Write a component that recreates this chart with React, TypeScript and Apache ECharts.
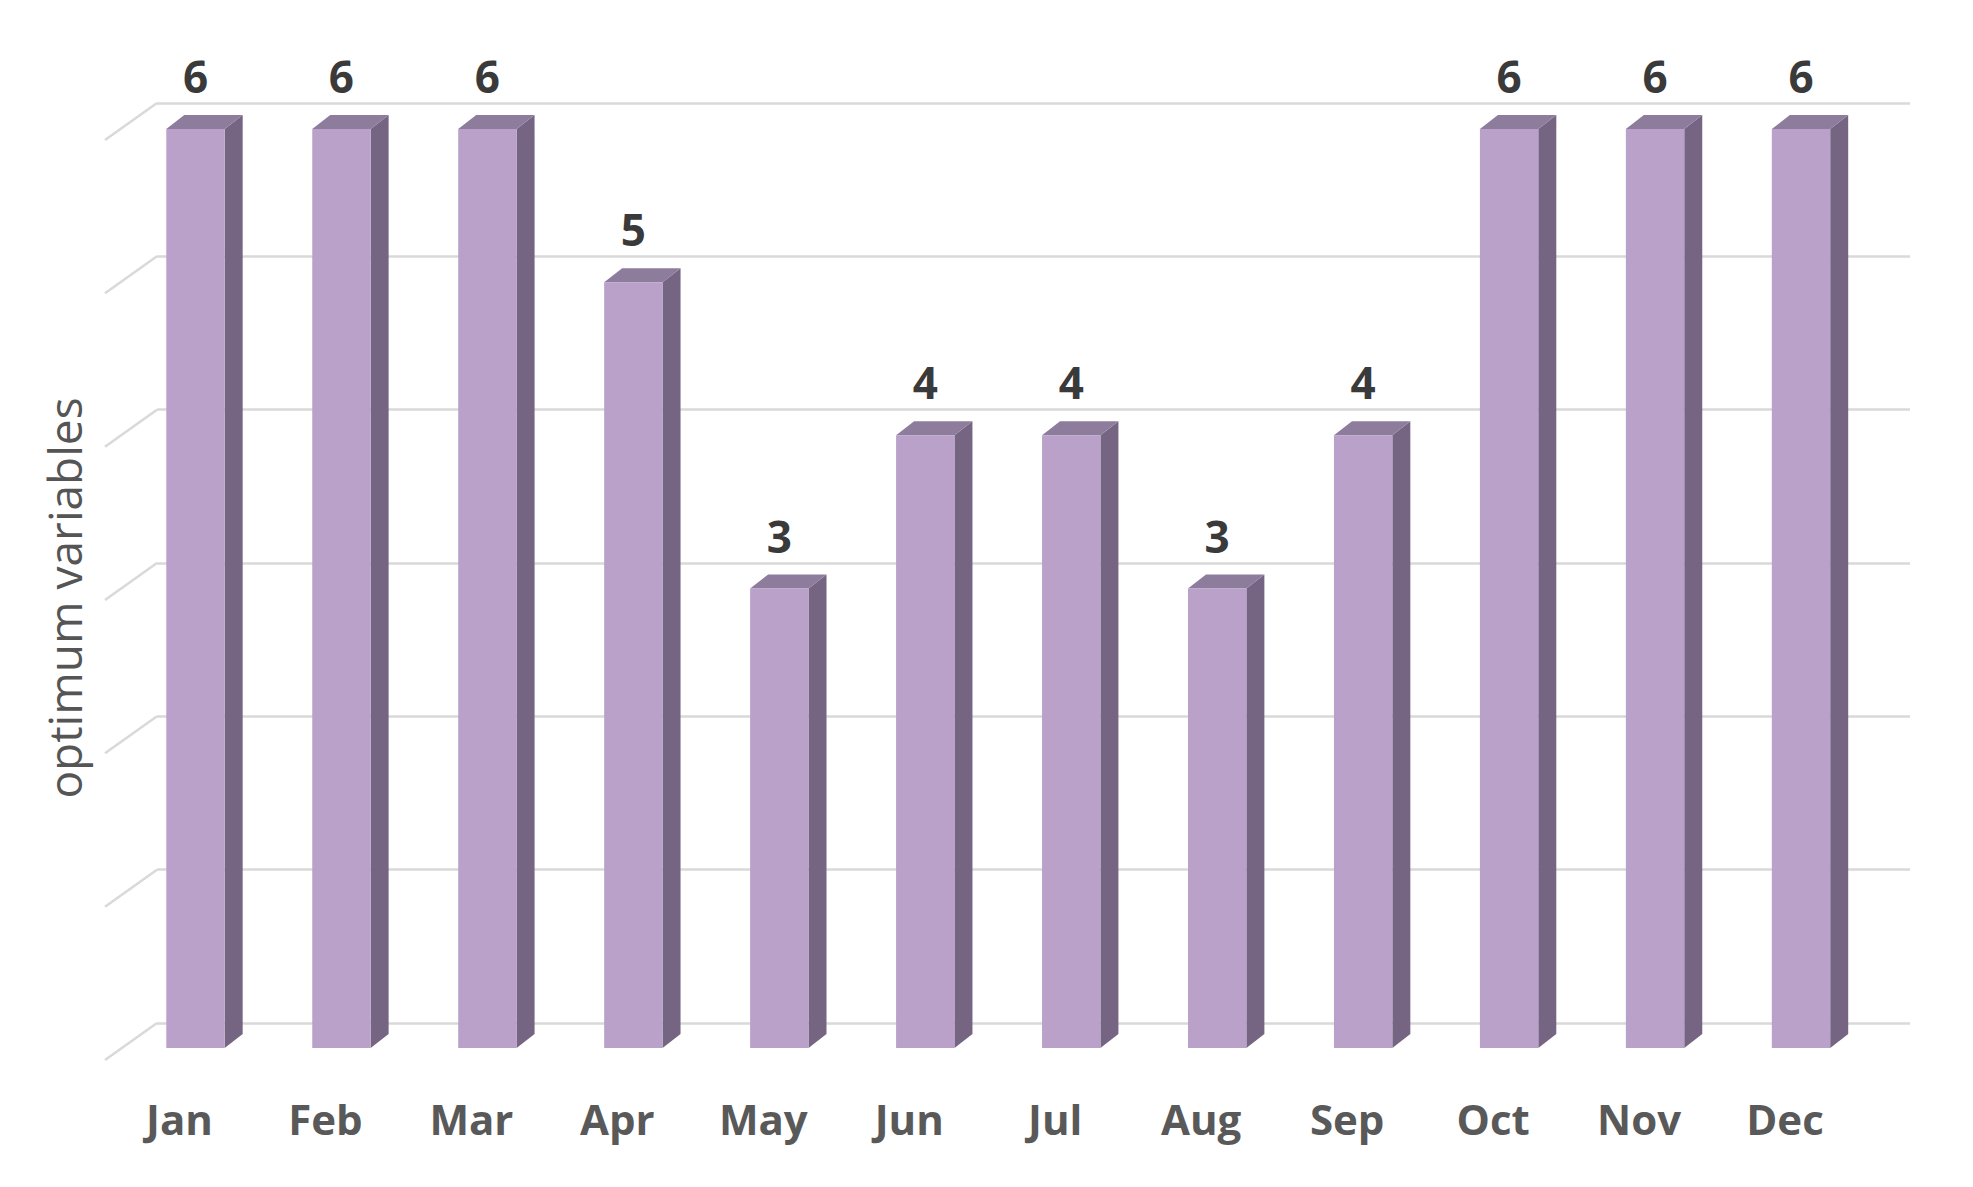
import React, { useEffect, useRef } from "react";
import * as echarts from "echarts";

const months = ["Jan", "Feb", "Mar", "Apr", "May", "Jun", "Jul", "Aug", "Sep", "Oct", "Nov", "Dec"];
const values = [6, 6, 6, 5, 3, 4, 4, 3, 4, 6, 6, 6];
const yTicks = [0, 1, 2, 3, 4, 5, 6];
const yTitle = "optimum variables";

const FRONT = "#B9A1CA";
const SIDE = "#756583";
const TOP = "#8E7C9D";
const GRID_COLOR = "#D9D9D9";
const FONT = '"Open Sans", "Noto Sans", sans-serif';

export default function App() {
  const ref = useRef<HTMLDivElement>(null);
  useEffect(() => {
    document.body.style.margin = "0";
    const chart = echarts.init(ref.current!, null, { renderer: "svg" });
    const option: any = {
      animation: false,
      backgroundColor: "#ffffff",
      grid: [
        { left: 157, right: 63, top: 103, bottom: 164 },
        { left: 122.5, right: 99, top: 129, bottom: 139 },
        { left: 106.5, right: 115, top: 129, bottom: 139 },
      ],
      xAxis: [
        { gridIndex: 0, type: "value", min: 0, max: 1, show: false },
        { gridIndex: 1, type: "category", data: months, show: false },
        {
          gridIndex: 2,
          type: "category",
          data: months,
          axisLine: { show: false },
          axisTick: { show: false },
          axisLabel: {
            margin: 49,
            fontSize: 42,
            fontWeight: "bold",
            fontFamily: FONT,
            color: "#595959",
          },
        },
      ],
      yAxis: [
        {
          gridIndex: 0,
          type: "value",
          min: 0,
          max: 6,
          interval: 1,
          axisLabel: { show: false },
          axisLine: { show: false },
          axisTick: { show: false },
          splitLine: { show: true, lineStyle: { color: GRID_COLOR, width: 2.5 } },
        },
        { gridIndex: 1, type: "value", min: 0, max: 6, show: false },
        { gridIndex: 2, type: "value", min: 0, max: 6, show: false },
      ],
      graphic: [
        {
          type: "text",
          x: 64,
          y: 598,
          rotation: Math.PI / 2,
          style: {
            text: yTitle,
            align: "center",
            verticalAlign: "middle",
            fill: "#555555",
            fontSize: 46,
            fontFamily: FONT,
          },
        },
      ],
      series: [
        {
          type: "custom",
          xAxisIndex: 0,
          yAxisIndex: 0,
          data: yTicks.map((v) => [0, v]),
          renderItem: (params: any, api: any) => {
            const p = api.coord([0, api.value(1)]);
            return {
              type: "line",
              shape: { x1: p[0], y1: p[1], x2: p[0] - 52, y2: p[1] + 37 },
              style: { stroke: GRID_COLOR, lineWidth: 2.5 },
            };
          },
          z: 1,
        },
        {
          type: "custom",
          xAxisIndex: 1,
          yAxisIndex: 1,
          data: values.map((v, i) => [i, v]),
          renderItem: (params: any, api: any) => {
            const i = api.value(0);
            const v = api.value(1);
            const top = api.coord([i, v]);
            const base = api.coord([i, 0]);
            const band = api.size([1, 0])[0];
            const w = band * 0.4;
            const dx = 18;
            const dy = 14;
            const x0 = top[0] - w / 2;
            const x1 = top[0] + w / 2;
            return {
              type: "group",
              children: [
                {
                  type: "polygon",
                  shape: {
                    points: [
                      [x1, top[1]],
                      [x1 + dx, top[1] - dy],
                      [x1 + dx, base[1] - dy],
                      [x1, base[1]],
                    ],
                  },
                  style: { fill: SIDE },
                },
                {
                  type: "polygon",
                  shape: {
                    points: [
                      [x0, top[1]],
                      [x0 + dx, top[1] - dy],
                      [x1 + dx, top[1] - dy],
                      [x1, top[1]],
                    ],
                  },
                  style: { fill: TOP },
                },
                {
                  type: "rect",
                  shape: { x: x0, y: top[1], width: w, height: base[1] - top[1] },
                  style: { fill: FRONT },
                },
                {
                  type: "text",
                  x: top[0],
                  y: top[1] - 53,
                  style: {
                    text: String(v),
                    align: "center",
                    verticalAlign: "middle",
                    fill: "#3A3A3A",
                    fontSize: 44,
                    fontWeight: "bold",
                    fontFamily: FONT,
                  },
                },
              ],
            };
          },
          z: 2,
        },
      ],
    };
    chart.setOption(option);
    return () => chart.dispose();
  }, []);
  return <div ref={ref} style={{ width: 1973, height: 1187 }} />;
}
